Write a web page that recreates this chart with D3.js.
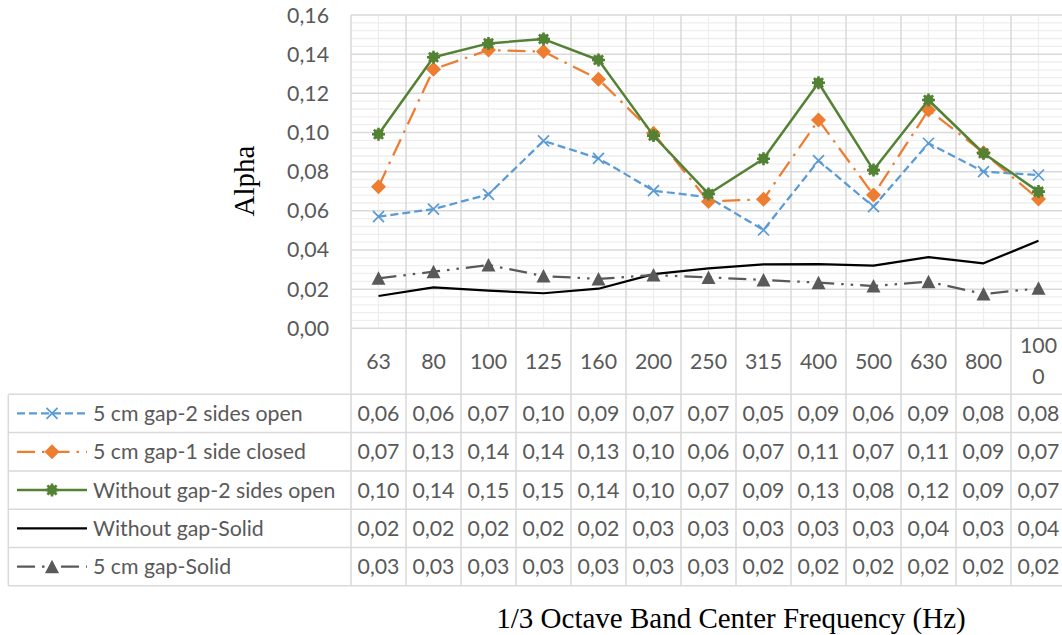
<!DOCTYPE html>
<html><head><meta charset="utf-8">
<script src="https://cdn.jsdelivr.net/npm/d3@7"></script>
<style>body{margin:0;background:#fff}svg{display:block}</style>
</head><body>
<svg id="c" width="1062" height="635"></svg>
<script>
// ---------- data ----------
const categories = ["63","80","100","125","160","200","250","315","400","500","630","800","1000"];
const gap5TwoSidesOpen   = [0.0570,0.0609,0.0684,0.0957,0.0868,0.0703,0.0669,0.0502,0.0856,0.0621,0.0945,0.0800,0.0783];
const gap5OneSideClosed  = [0.0723,0.1323,0.1421,0.1413,0.1272,0.0996,0.0648,0.0659,0.1064,0.0681,0.1115,0.0897,0.0660];
const noGapTwoSidesOpen  = [0.0991,0.1384,0.1455,0.1477,0.1370,0.0984,0.0686,0.0866,0.1254,0.0808,0.1166,0.0894,0.0698];
const noGapSolid         = [0.0165,0.0209,0.0192,0.0179,0.0202,0.0277,0.0306,0.0327,0.0328,0.0320,0.0363,0.0332,0.0447];
const gap5Solid          = [0.0255,0.0289,0.0323,0.0267,0.0252,0.0272,0.0260,0.0247,0.0233,0.0216,0.0238,0.0175,0.0204];
const seriesNames = ["5 cm gap-2 sides open","5 cm gap-1 side closed","Without gap-2 sides open","Without gap-Solid","5 cm gap-Solid"];
const yTicks = [0,0.02,0.04,0.06,0.08,0.10,0.12,0.14,0.16];
const yTitle = "Alpha";
const xTitle = "1/3 Octave Band Center Frequency (Hz)";

const seriesValues = [gap5TwoSidesOpen,gap5OneSideClosed,noGapTwoSidesOpen,noGapSolid,gap5Solid];

// ---------- styles ----------
const styles = [
  {color:"#5b9bd5", width:2.25, dash:"8,4", marker:"cross"},
  {color:"#ed7d31", width:2.25, dash:"18,7,2.5,7", marker:"diamond"},
  {color:"#548235", width:2.5, dash:null, marker:"star"},
  {color:"#000000", width:2.25, dash:null, marker:null},
  {color:"#595959", width:2.25, dash:"18,7,2.5,7,2.5,7", marker:"triangle"}
];
const FONT = "Lato, 'Open Sans', sans-serif";
const FS = 21.3;
const TXT = "#595959";
const MAJ = "#d9d9d9", MIN = "#eeeeee";
const SERIF = "'Liberation Serif', 'Times New Roman', serif";

// ---------- layout ----------
const plotL = 351, band = 55, plotTop = 15, plotBot = 328.3;
const tableTop = 394.3, rowH = 38.3, tableLeft = 8.3;
const plotR = plotL + band*categories.length;
const svg = d3.select("#c");

const x = d3.scaleBand().domain(categories).range([plotL, plotR]).padding(0);
const y = d3.scaleLinear().domain([0,0.16]).range([plotBot, plotTop]);
const cx = c => x(c) + x.bandwidth()/2;

// minor horizontal gridlines
const minorY = d3.range(0, 0.16001, 0.004).filter(v => Math.abs(v/0.02 - Math.round(v/0.02))>1e-6);
svg.append("g").selectAll("line").data(minorY).join("line")
  .attr("x1",plotL).attr("x2",plotR).attr("y1",d=>y(d)).attr("y2",d=>y(d))
  .attr("stroke",MIN).attr("stroke-width",1.3);
// minor vertical gridlines (category centers)
svg.append("g").selectAll("line").data(categories).join("line")
  .attr("x1",d=>cx(d)).attr("x2",d=>cx(d)).attr("y1",plotTop).attr("y2",plotBot)
  .attr("stroke",MIN).attr("stroke-width",1.3);
// major horizontal gridlines
svg.append("g").selectAll("line").data(yTicks).join("line")
  .attr("x1",plotL).attr("x2",plotR).attr("y1",d=>y(d)).attr("y2",d=>y(d))
  .attr("stroke",MAJ).attr("stroke-width",1.5);
// major vertical lines (category boundaries), extend through table
const bounds = categories.map(c=>x(c)).concat([plotR]);
svg.append("g").selectAll("line").data(bounds).join("line")
  .attr("x1",d=>d).attr("x2",d=>d).attr("y1",plotTop).attr("y2",tableTop+rowH*seriesNames.length)
  .attr("stroke",MAJ).attr("stroke-width",1.5);

// table horizontal lines
const rowLines = d3.range(seriesNames.length+1).map(i=>tableTop+i*rowH);
svg.append("g").selectAll("line").data(rowLines).join("line")
  .attr("x1",tableLeft).attr("x2",plotR).attr("y1",d=>d).attr("y2",d=>d)
  .attr("stroke",MAJ).attr("stroke-width",1.5);
svg.append("line").attr("x1",tableLeft).attr("x2",tableLeft)
  .attr("y1",tableTop).attr("y2",tableTop+rowH*seriesNames.length)
  .attr("stroke",MAJ).attr("stroke-width",1.5);

// y tick labels
const fmt = v => d3.format(".2f")(v).replace(".",",");
svg.append("g").selectAll("text").data(yTicks).join("text")
  .attr("x",329).attr("y",d=>y(d)+7.5).attr("text-anchor","end")
  .attr("font-family",FONT).attr("font-size",FS).attr("fill",TXT).text(fmt);

// category labels in header row (wrap long labels like Excel)
const hdr = svg.append("g");
categories.forEach(c=>{
  if (c.length>3){
    hdr.append("text").attr("x",cx(c)).attr("y",352.5).attr("text-anchor","middle")
      .attr("font-family",FONT).attr("font-size",FS).attr("fill",TXT).text(c.slice(0,3));
    hdr.append("text").attr("x",cx(c)).attr("y",384).attr("text-anchor","middle")
      .attr("font-family",FONT).attr("font-size",FS).attr("fill",TXT).text(c.slice(3));
  } else {
    hdr.append("text").attr("x",cx(c)).attr("y",369).attr("text-anchor","middle")
      .attr("font-family",FONT).attr("font-size",FS).attr("fill",TXT).text(c);
  }
});

// markers
function drawMarker(g, type, color){
  if (type==="cross"){
    g.append("path").attr("d","M-5.5,-5.5L5.5,5.5M-5.5,5.5L5.5,-5.5").attr("stroke",color).attr("stroke-width",1.7).attr("fill","none");
  } else if (type==="diamond"){
    g.append("path").attr("d","M0,-7.5L7.5,0L0,7.5L-7.5,0Z").attr("fill",color);
  } else if (type==="star"){
    g.append("circle").attr("r",5).attr("fill",color);
    g.append("path").attr("d","M-6.5,0L6.5,0M0,-6.5L0,6.5M-4.6,-4.6L4.6,4.6M-4.6,4.6L4.6,-4.6")
      .attr("stroke",color).attr("stroke-width",2.6).attr("fill","none");
  } else if (type==="triangle"){
    g.append("path").attr("d","M0,-7L7,6.5L-7,6.5Z").attr("fill",color);
  }
}

// series lines + markers
seriesValues.forEach((vals,i)=>{
  const st = styles[i];
  const line = d3.line().x((d,j)=>cx(categories[j])).y(d=>y(d));
  svg.append("path").datum(vals).attr("d",line).attr("fill","none")
    .attr("stroke",st.color).attr("stroke-width",st.width)
    .attr("stroke-dasharray",st.dash).attr("stroke-linejoin","round");
  if (st.marker){
    vals.forEach((v,j)=>{
      const g = svg.append("g").attr("transform",`translate(${cx(categories[j])},${y(v)})`);
      drawMarker(g, st.marker, st.color);
    });
  }
});

// table rows: legend key + values
seriesValues.forEach((vals,i)=>{
  const st = styles[i];
  const rc = tableTop + rowH*i + rowH/2;
  svg.append("line").attr("x1",17).attr("x2",87).attr("y1",rc).attr("y2",rc)
    .attr("stroke",st.color).attr("stroke-width",st.width).attr("stroke-dasharray",st.dash);
  if (st.marker){
    const g = svg.append("g").attr("transform",`translate(52,${rc})`);
    drawMarker(g, st.marker, st.color);
  }
  svg.append("text").attr("x",93).attr("y",rc+7.5)
    .attr("font-family",FONT).attr("font-size",FS).attr("fill",TXT).text(seriesNames[i]);
  svg.append("g").selectAll("text").data(vals).join("text")
    .attr("x",(d,j)=>cx(categories[j])).attr("y",rc+7.5).attr("text-anchor","middle")
    .attr("font-family",FONT).attr("font-size",FS).attr("fill",TXT).text(fmt);
});

// axis titles
svg.append("text").attr("transform","translate(254,181) rotate(-90)").attr("text-anchor","middle")
  .attr("font-family",SERIF).attr("font-size",29).attr("fill","#000").text(yTitle);
svg.append("text").attr("x",731).attr("y",628).attr("text-anchor","middle")
  .attr("font-family",SERIF).attr("font-size",29).attr("fill","#000").text(xTitle);
</script>
</body></html>
